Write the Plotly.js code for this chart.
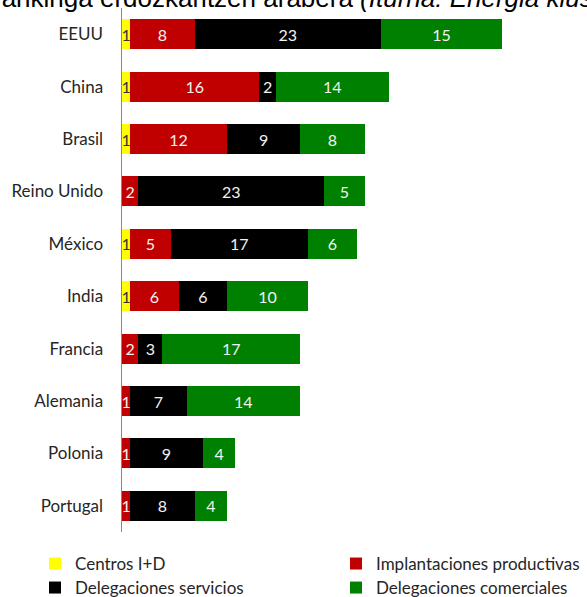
<!DOCTYPE html>
<html>
<head>
<meta charset="utf-8">
<script src="https://cdn.plot.ly/plotly-3.0.1.min.js"></script>
<style>
html,body{margin:0;padding:0;background:#fff;}
#chart{width:587px;height:597px;}
</style>
</head>
<body>
<div id="chart"></div>
<script>
var countries = ["EEUU","China","Brasil","Reino Unido","México","India","Francia","Alemania","Polonia","Portugal"];
var centrosID = [1,1,1,0,1,1,0,0,0,0];
var implantaciones = [8,16,12,2,5,6,2,1,1,1];
var delegServicios = [23,2,9,23,17,6,3,7,9,8];
var delegComerciales = [15,14,8,5,6,10,17,14,4,4];
var seriesNames = ["Centros I+D","Implantaciones productivas","Delegaciones servicios","Delegaciones comerciales"];
var titleMain = "rankinga erdozkaritzen arabera ";
var titleSource = "(Iturria: Energia klusterra)";

var colors = ["#FFFF00","#C00000","#000000","#008000"];
var textColors = ["#333333","#F2F2F2","#F2F2F2","#F2F2F2"];
var legendIds = ["legend","legend2","legend3","legend4"];
var data = [centrosID, implantaciones, delegServicios, delegComerciales];

var traces = data.map(function(vals, i){
  return {
    type: "bar",
    orientation: "h",
    name: seriesNames[i],
    y: countries,
    x: vals,
    text: vals.map(function(v){ return v ? String(v) : ""; }),
    textposition: "inside",
    insidetextanchor: "middle",
    constraintext: "none",
    textfont: {family: "Lato, sans-serif", size: 16, color: textColors[i]},
    marker: {color: colors[i], line: {width: 0}},
    hoverinfo: "x+y+name",
    legend: legendIds[i],
    cliponaxis: false
  };
});

var legendFont = {family: "Lato, sans-serif", size: 17, color: "#262626"};
function mkLegend(x, y){
  return {
    orientation: "h",
    xref: "container", yref: "container",
    x: x, xanchor: "left",
    y: y, yanchor: "middle",
    font: legendFont,
    itemclick: false, itemdoubleclick: false,
    bgcolor: "rgba(0,0,0,0)"
  };
}

var layout = {
  width: 587, height: 597,
  margin: {l: 122, r: 4, t: 8, b: 65},
  paper_bgcolor: "#ffffff",
  plot_bgcolor: "#ffffff",
  barmode: "stack",
  bargap: 0.43,
  showlegend: true,
  uniformtext: {mode: "show", minsize: 16},
  font: {family: "Lato, sans-serif", color: "#262626"},
  xaxis: {
    range: [0, 57],
    showgrid: false, zeroline: false, showline: false,
    showticklabels: false, ticks: ""
  },
  yaxis: {
    type: "category",
    autorange: "reversed",
    showgrid: false, zeroline: false,
    showline: true, linecolor: "#888888", linewidth: 1.5,
    ticks: "", ticklabelstandoff: 14,
    tickfont: {family: "Lato, sans-serif", size: 17, color: "#262626"}
  },
  legend: mkLegend(0.0596, 0.0553),
  legend2: mkLegend(0.5724, 0.0553),
  legend3: mkLegend(0.0596, 0.0151),
  legend4: mkLegend(0.5724, 0.0151),
  annotations: [{
    xref: "paper", yref: "paper",
    x: -0.285, xanchor: "left",
    y: 1.0, yanchor: "bottom",
    yshift: -7,
    showarrow: false,
    align: "left",
    text: titleMain + "<i>" + titleSource + "</i>",
    font: {family: "Liberation Sans, Arial, sans-serif", size: 26, color: "#000000"}
  }]
};

Plotly.newPlot("chart", traces, layout, {displayModeBar: false, staticPlot: true});
</script>
</body>
</html>
